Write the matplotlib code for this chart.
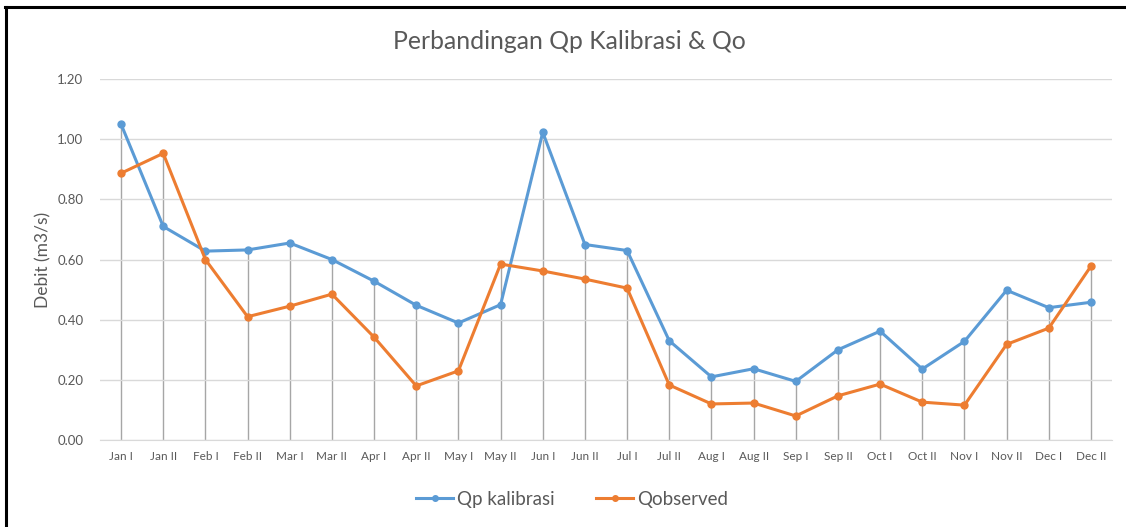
import matplotlib.pyplot as plt
from matplotlib.lines import Line2D
import numpy as np

plt.rcParams["font.family"] = ["Lato", "DejaVu Sans"]

periods = ["Jan I", "Jan II", "Feb I", "Feb II", "Mar I", "Mar II", "Apr I", "Apr II",
           "May I", "May II", "Jun I", "Jun II", "Jul I", "Jul II", "Aug I", "Aug II",
           "Sep I", "Sep II", "Oct I", "Oct II", "Nov I", "Nov II", "Dec I", "Dec II"]
qp_kalibrasi = [1.05, 0.71, 0.628, 0.632, 0.655, 0.60, 0.528, 0.448, 0.389, 0.45,
                1.023, 0.65, 0.63, 0.33, 0.21, 0.237, 0.195, 0.30, 0.362, 0.236,
                0.328, 0.498, 0.44, 0.458]
q_observed = [0.887, 0.953, 0.60, 0.41, 0.445, 0.485, 0.342, 0.18, 0.23, 0.585,
              0.562, 0.535, 0.505, 0.183, 0.12, 0.123, 0.08, 0.147, 0.186, 0.126,
              0.116, 0.318, 0.372, 0.578]
y_ticks = [0.0, 0.2, 0.4, 0.6, 0.8, 1.0, 1.2]

BLUE = "#5b9bd5"
ORANGE = "#ed7d31"
TEXT = "#595959"

fig = plt.figure(figsize=(11.26, 5.27), dpi=100)
ax = fig.add_axes([0.0888, 0.165, 0.8988, 0.685])

x = np.arange(len(periods))
top = np.maximum(qp_kalibrasi, q_observed)
ax.vlines(x, 0, top, color="#a6a6a6", linewidth=1.0, zorder=1)

ax.plot(x, qp_kalibrasi, color=BLUE, linewidth=2.2, marker="o", markersize=5,
        label="Qp kalibrasi", zorder=3)
ax.plot(x, q_observed, color=ORANGE, linewidth=2.2, marker="o", markersize=5,
        label="Qobserved", zorder=3)

ax.set_xlim(-0.5, len(periods) - 0.5)
ax.set_ylim(0, 1.2)
ax.set_yticks(y_ticks)
ax.set_yticklabels([f"{v:.2f}" for v in y_ticks])
ax.set_xticks(x)
ax.set_xticklabels(periods)
ax.grid(axis="y", color="#d9d9d9", linewidth=1.0, zorder=0)
for side in ["top", "right", "left"]:
    ax.spines[side].set_visible(False)
ax.spines["bottom"].set_color("#d9d9d9")
ax.tick_params(axis="both", length=0, colors=TEXT)
ax.tick_params(axis="x", labelsize=8.5, pad=8)
ax.tick_params(axis="y", labelsize=9.5, pad=12)
ax.set_ylabel("Debit (m3/s)", fontsize=12.5, color=TEXT, labelpad=4)

fig.text(0.506, 0.922, "Perbandingan Qp Kalibrasi & Qo", ha="center", va="center",
         fontsize=17.8, color=TEXT)

handles = [Line2D([0], [0], color=BLUE, linewidth=2.2, marker="o", markersize=4),
           Line2D([0], [0], color=ORANGE, linewidth=2.2, marker="o", markersize=4)]
fig.legend(handles, ["Qp kalibrasi", "Qobserved"], loc="center", bbox_to_anchor=(0.508, 0.053),
           ncol=2, frameon=False, fontsize=13.5, labelcolor=TEXT, handlelength=2.0,
           handletextpad=0.2, columnspacing=2.2)

# dark frame on top and left edges
fig.add_artist(Line2D([5 / 1126, 1.0], [1 - 7 / 527, 1 - 7 / 527], color="black", linewidth=2.2,
                      transform=fig.transFigure))
fig.add_artist(Line2D([6 / 1126, 6 / 1126], [0.0, 1 - 7 / 527], color="black", linewidth=2.2,
                      transform=fig.transFigure))

fig.savefig("out.png", dpi=100)
